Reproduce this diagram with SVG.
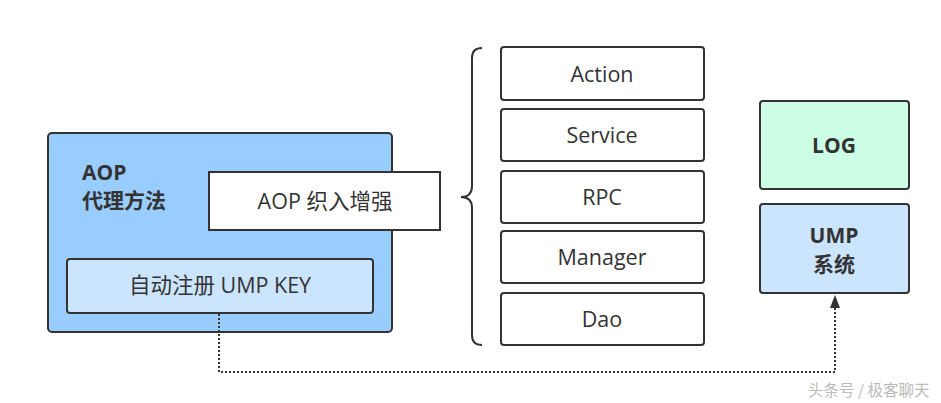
<svg xmlns="http://www.w3.org/2000/svg" width="941" height="403" viewBox="0 0 941 403">
<style>
.b{stroke:#333;stroke-width:2;}
.t{font-family:"Open Sans","Noto Sans CJK SC",sans-serif;font-size:21.5px;fill:#333;text-anchor:middle;}
.bt{font-family:"Open Sans","Noto Sans CJK SC",sans-serif;font-size:21px;font-weight:bold;fill:#333;}
.conn{fill:none;stroke:#333;stroke-width:2;stroke-dasharray:2 2;}
</style>
<rect width="941" height="403" fill="#fff"/>
<g id="aop">
<rect class="b" x="48" y="133" width="344" height="199" rx="4" fill="#99ccff"/>
<text class="bt" x="82" y="180">AOP</text>
<text class="bt" x="82" y="208">代理方法</text>
</g>
<g id="weave">
<rect class="b" x="209" y="172" width="231" height="58" fill="#fff"/>
<text class="t" x="325" y="209">AOP 织入增强</text>
</g>
<g id="register">
<rect class="b" x="67" y="259" width="306" height="54" rx="3" fill="#cce5ff"/>
<text class="t" x="220" y="293">自动注册 UMP KEY</text>
</g>
<g id="brace">
<path d="M482,48 Q472,48 472,58 L472,186 Q472,197 461,197 Q472,197 472,208 L472,335 Q472,345 482,345" fill="none" stroke="#333" stroke-width="2"/>
</g>
<g id="action">
<rect class="b" x="501" y="47" width="203" height="53" rx="3" fill="#fff"/>
<text class="t" x="602" y="82">Action</text>
</g>
<g id="service">
<rect class="b" x="501" y="109" width="203" height="52" rx="3" fill="#fff"/>
<text class="t" x="602" y="143">Service</text>
</g>
<g id="rpc">
<rect class="b" x="501" y="171" width="203" height="52" rx="3" fill="#fff"/>
<text class="t" x="602" y="205">RPC</text>
</g>
<g id="manager">
<rect class="b" x="501" y="231" width="203" height="52" rx="3" fill="#fff"/>
<text class="t" x="602" y="265">Manager</text>
</g>
<g id="dao">
<rect class="b" x="501" y="293" width="203" height="52" rx="3" fill="#fff"/>
<text class="t" x="602" y="327">Dao</text>
</g>
<g id="log">
<rect class="b" x="760" y="101" width="149" height="88" rx="3" fill="#ccffe6"/>
<text class="bt" x="834" y="153" text-anchor="middle">LOG</text>
</g>
<g id="ump">
<rect class="b" x="760" y="204" width="149" height="89" rx="3" fill="#cce5ff"/>
<text class="bt" x="834" y="243" text-anchor="middle">UMP</text>
<text class="bt" x="834" y="272" text-anchor="middle">系统</text>
</g>
<g id="connectors">
<path class="conn" d="M219,314 L219,372 L835,372 L835,306"/>
<path d="M830,308 L835,295 L840,308 Z" fill="#333"/>
</g>
<text x="808" y="396" font-family="'Noto Sans CJK SC',sans-serif" font-size="15.5" fill="#bbb">头条号 / 极客聊天</text>
</svg>
